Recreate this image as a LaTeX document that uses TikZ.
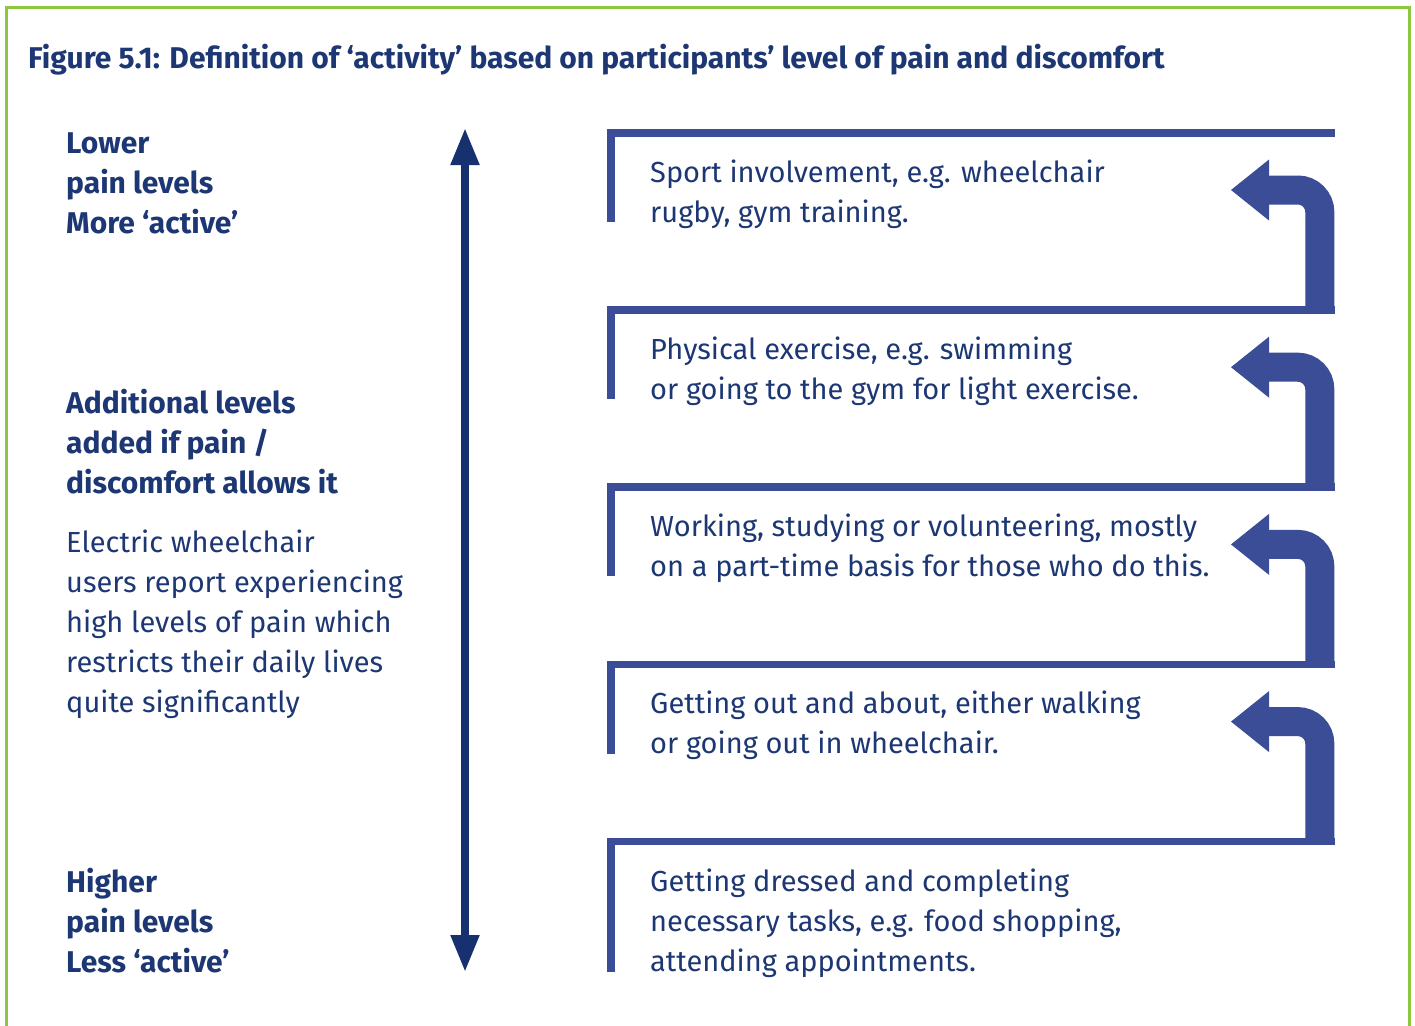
\documentclass[tikz,border=0pt]{standalone}
\usepackage{fontspec}
\setmainfont{Fira Sans}
\usetikzlibrary{arrows.meta}
\definecolor{txtblue}{RGB}{28,55,115}
\definecolor{bracketblue}{RGB}{58,77,150}
\definecolor{axisblue}{RGB}{22,48,112}
\definecolor{framegreen}{RGB}{141,198,63}
\tikzset{
  bodytext/.style={anchor=base west, inner sep=0pt, align=left, text=txtblue, font=\fontsize{29}{40}\selectfont},
  boldtext/.style={bodytext, font=\bfseries\fontsize{30}{40}\selectfont},
  bracketline/.style={draw=bracketblue, line width=7.6pt, line cap=butt, line join=miter},
  turnshaft/.style={draw=bracketblue, line width=29pt, line cap=butt, rounded corners=22pt},
  turnhead/.style={fill=bracketblue},
}
\begin{document}
\begin{tikzpicture}[x=1pt,y=-1pt]
\useasboundingbox (0,0) rectangle (1415,1025);
\fill[white] (0,0) rectangle (1415,1025);
% frame
\draw[framegreen, line width=3pt] (6,1040) -- (6,8) -- (1409,8) -- (1409,1040);
% title
\node[boldtext] (title) at (28,68) {Figure 5.1: Definition of ‘activity’ based on participants’ level of pain and discomfort};
% left column (anchor = baseline of last line)
\node[boldtext] (low) at (66,233) {Lower\\pain levels\\More ‘active’};
\node[boldtext] (add) at (66,493) {Additional levels\\added if pain /\\discomfort allows it};
\node[bodytext] (elec) at (66,712) {Electric wheelchair\\users report experiencing\\high levels of pain which\\restricts their daily lives\\quite significantly};
\node[boldtext] (high) at (66,972) {Higher\\pain levels\\Less ‘active’};
% axis
\coordinate (axtop) at (465,128);
\coordinate (axbot) at (465,972);
\draw[axisblue, line width=8pt, {Triangle[length=37pt,width=27pt]}-{Triangle[length=37pt,width=27pt]}] (axtop) -- (axbot);
% brackets
\foreach \i/\yy/\len in {1/129/93, 2/306.2/93, 3/483.4/93, 4/660.6/93, 5/837.8/134} {
  \coordinate (bl\i) at (611,\yy+\len);
  \coordinate (bc\i) at (611,\yy+3.8);
  \coordinate (br\i) at (1334.5,\yy+3.8);
  \draw[bracketline] (bl\i) -- (bc\i) -- (br\i);
}
% texts in boxes (anchor = baseline of last line)
\node[bodytext] (t1) at (650,222) {Sport involvement, e.g. wheelchair\\rugby, gym training.};
\node[bodytext] (t2) at (650,399.2) {Physical exercise, e.g. swimming\\or going to the gym for light exercise.};
\node[bodytext] (t3) at (650,576.4) {Working, studying or volunteering, mostly\\on a part-time basis for those who do this.};
\node[bodytext] (t4) at (650,753.6) {Getting out and about, either walking\\or going out in wheelchair.};
\node[bodytext] (t5) at (650,971) {Getting dressed and completing\\necessary tasks, e.g. food shopping,\\attending appointments.};
% turn arrows
\foreach \i/\yy in {1/190, 2/367.2, 3/544.4, 4/721.6} {
  \coordinate (hb\i) at (1268,\yy);
  \coordinate (hc\i) at (1319.8,\yy);
  \coordinate (hs\i) at (1319.8,\yy+118);
  \draw[turnshaft] (hb\i) -- (hc\i) -- (hs\i);
  \fill[turnhead] (1269,\yy-30.5) -- (1231,\yy) -- (1269,\yy+30.5) -- cycle;
}
\end{tikzpicture}
\end{document}
